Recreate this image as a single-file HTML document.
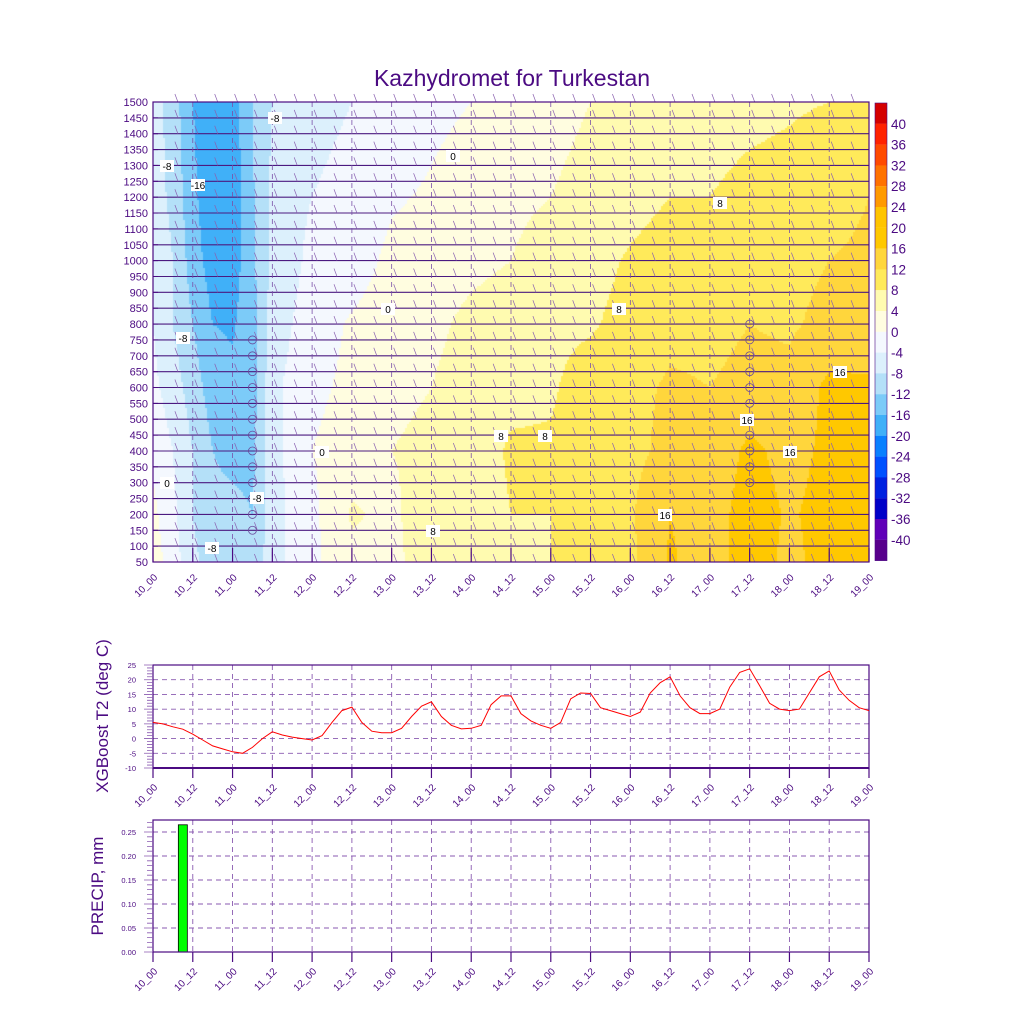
<!DOCTYPE html>
<html><head><meta charset="utf-8">
<style>
body{margin:0;background:#fff;width:1024px;height:1024px;position:relative;overflow:hidden;font-family:"Liberation Sans",sans-serif}
#fill{position:absolute;left:153px;top:102px}
#svg{position:absolute;left:0;top:0}
</style></head>
<body>
<canvas id="fill" width="716" height="460"></canvas>
<svg id="svg" width="1024" height="1024" xmlns="http://www.w3.org/2000/svg">
<text x="512" y="86" text-anchor="middle" font-size="23" fill="#4b0a82">Kazhydromet for Turkestan</text>
<g id="g"></g>
</svg>
<script>
// ---- data ----
const xLabels=["10_00","10_12","11_00","11_12","12_00","12_12","13_00","13_12","14_00","14_12","15_00","15_12","16_00","16_12","17_00","17_12","18_00","18_12","19_00"];
const gridHours=[0,6,12,18,24,30,36,42,48,60,72,84,96,108,120,132,144,156,168,180,192,204,216];
const gridLevels=[50,200,400,600,800,1000,1200,1500];
// temperature per column (levels 50..1500)
const tempGrid=[
[2,1,-1,-3,-4,-5,-6,-6],
[-2,-3,-4,-6,-8,-8,-9,-10],
[-7,-8,-8,-10,-12,-14,-15,-16],
[-10,-11,-12,-14,-16,-18,-19,-19],
[-11,-11,-13,-15,-16.5,-18,-18.5,-18],
[-10,-12,-13,-14,-13.5,-13,-12.5,-12],
[-6,-6,-5,-5,-6,-7,-7,-8],
[-3,-3,-3,-3,-4,-5,-5,-6],
[-1,-1,0,-1,-2,-3,-4,-5],
[3,4.5,2,1,0.5,-2,-3,-4],
[3,3,4,3,2,1,-0.5,-3],
[6,7,5,4,3,2,0.5,-1],
[5,6,6,6,5,3,2,0],
[7,8,8.5,7,6,4,3,2],
[8,8,8.5,7.5,7,6,4,3],
[9.5,10,10,10,7.5,6.5,5,4],
[11,11.5,11,11,9.5,8.5,6.5,5],
[16.5,16,13,12.5,11,10,8,6],
[14,14,13,12,11,10,8,6.5],
[18,18,17,13,12,11,9,7],
[15,15.5,14.5,13,11.5,11,9.5,7.5],
[17.5,17.5,17,17,13,12,11,8],
[17,17,17,16.5,14,12.5,12,9]];
const t2Values=[5.5,5,4,3.2,1.5,-0.5,-2.5,-3.5,-4.5,-5,-3,0,2.3,1.2,0.5,0,-0.5,1,5.5,9.5,10.7,5.5,2.5,2,2,3.5,7.5,11,12.5,7.5,4.5,3.3,3.5,4.5,11.5,14.5,14.5,8.5,6,4.5,3.5,5.5,13.5,15.5,15.3,10.5,9.5,8.5,7.5,9,15.5,19,21,14.5,10.5,8.5,8.5,10,17.5,22.5,23.7,18,12,10,9.5,10,15.5,21,23,16.5,13,10.5,9.5];
const precipValues=t2Values.map(()=>0);precipValues[3]=0.265;
const cbLevels=[40,36,32,28,24,20,16,12,8,4,0,-4,-8,-12,-16,-20,-24,-28,-32,-36,-40];
const cbColors=["#d40000","#ff2200","#ff4a00","#ff7200","#ff9a00","#ffc400","#ffc800","#ffd63c","#ffea5a","#fffbb0","#fffde0","#f4f8fe","#dcf0fc","#b4e0f8","#7ccbf8","#40b0f8","#0a80ff","#0050ff","#0020e0","#0000c8","#6000b8","#58008c"];
// ---- helpers ----
const NS="http://www.w3.org/2000/svg",G=document.getElementById('g'),P="#4b0a82";
function mk(t,a,txt){const e=document.createElementNS(NS,t);for(const k in a)e.setAttribute(k,a[k]);if(txt!==undefined)e.textContent=txt;G.appendChild(e);return e;}
const X0=153,X1=869;
const xH=h=>X0+(X1-X0)*h/216;
const yMain=l=>562-(l-50)*460/1450;
const yT=v=>768-(v+10)*103/35;
const yP=v=>952-v*480;
function colorFor(v){for(let i=0;i<cbLevels.length;i++){if(v>=cbLevels[i])return cbColors[i];}return cbColors[cbColors.length-1];}
// ---- fill ----
(function(){const c=document.getElementById('fill').getContext('2d');
function val(h,l){let i=0;while(i<gridHours.length-2&&gridHours[i+1]<h)i++;let j=0;while(j<gridLevels.length-2&&gridLevels[j+1]<l)j++;
const tx=(h-gridHours[i])/(gridHours[i+1]-gridHours[i]),ty=(l-gridLevels[j])/(gridLevels[j+1]-gridLevels[j]);
const a=tempGrid[i][j],b=tempGrid[i+1][j],cc=tempGrid[i][j+1],d=tempGrid[i+1][j+1];
return a*(1-tx)*(1-ty)+b*tx*(1-ty)+cc*(1-tx)*ty+d*tx*ty;}
for(let px=0;px<716;px+=2)for(let py=0;py<460;py+=2){const h=(px+1)/716*216,l=50+(460-py-1)/460*1450;c.fillStyle=colorFor(val(h,l));c.fillRect(px,py,2,2);}})();
// ---- main plot ----
let d="";
for(let l=100;l<1500;l+=50)d+=`M${X0} ${yMain(l).toFixed(1)}H${X1}`;
mk('path',{d:d,stroke:"#4b1a80",'stroke-width':1.1,fill:"none",});
d="";for(let l=50;l<=1500;l+=50){const y=yMain(l);for(let k=1;k<36;k++){const x=xH(k*6)+5;d+=`M${(x-3).toFixed(1)} ${(y-8).toFixed(1)}L${x.toFixed(1)} ${y.toFixed(1)}`;}}
mk('path',{d:d,stroke:"#8a60b0",'stroke-width':0.7,fill:"none",});
d="";for(let i=1;i<18;i++){const x=xH(i*12);d+=`M${x} 102V562`;}
mk('path',{d:d,stroke:"#7a50a8",'stroke-width':0.8,'stroke-dasharray':"5,4",fill:"none",});
for(let l=150;l<=750;l+=50)mk('circle',{cx:xH(30),cy:yMain(l),r:4,fill:"none",stroke:"#6a4a9a",'stroke-width':0.8,});
for(let l=300;l<=800;l+=50)mk('circle',{cx:xH(180),cy:yMain(l),r:4,fill:"none",stroke:"#6a4a9a",'stroke-width':0.8,});
mk('rect',{x:X0,y:102,width:X1-X0,height:460,fill:"none",stroke:P,'stroke-width':1.2,});
for(let l=50;l<=1500;l+=50){const y=yMain(l);mk('text',{x:148,y:y+4,'text-anchor':"end",'font-size':11,fill:P,},l);mk('line',{x1:X0,x2:X0+5,y1:y,y2:y,stroke:P});}
// x axes
function xAxis(yb,tickUp,dy,name){xLabels.forEach((s,i)=>{const x=xH(i*12);
mk('line',{x1:x,x2:x,y1:yb,y2:tickUp?yb-14:yb+10,stroke:P,'stroke-width':1.2});
const t=mk('text',{x:x+5,y:yb+dy,'text-anchor':"end",'font-size':10,fill:P,transform:`rotate(-45 ${x+5} ${yb+dy})`,},s);});}
xAxis(562,true,16,"main-x-tick-label");
// colorbar
cbColors.forEach((c,i)=>mk('rect',{x:875,y:103+i*20.8,width:12,height:20.9,fill:c,}));
mk('rect',{x:875,y:103,width:12,height:457.6,fill:"none",stroke:P,'stroke-width':0.6,});
cbLevels.forEach((v,i)=>mk('text',{x:891,y:103+(i+1)*20.8+5,'font-size':13.5,fill:P,},v));
// contour labels
[[167,166,"-8"],[198,185,"-16"],[275,118,"-8"],[183,338,"-8"],[167,483,"0"],[212,548,"-8"],[257,498,"-8"],[322,452,"0"],[388,309,"0"],[453,156,"0"],[433,531,"8"],[501,436,"8"],[545,436,"8"],[619,309,"8"],[720,203,"8"],[665,515,"16"],[747,420,"16"],[790,452,"16"],[840,372,"16"]].forEach(a=>{
mk('rect',{x:a[0]-7,y:a[1]-6,width:14,height:12,fill:"#fff",});
mk('text',{x:a[0],y:a[1]+4,'text-anchor':"middle",'font-size':10,fill:"#000",},a[2]);});
// ---- T2 plot ----
d="";for(let v=-5;v<25;v+=5)d+=`M${X0} ${yT(v)}H${X1}`;for(let i=1;i<18;i++)d+=`M${xH(i*12)} 665V768`;
mk('path',{d:d,stroke:"#8a5ab0",'stroke-width':0.9,'stroke-dasharray':"5,4",fill:"none",});
mk('rect',{x:X0,y:665,width:X1-X0,height:103,fill:"none",stroke:P,'stroke-width':1.2,});
mk('line',{x1:X0,x2:X1,y1:768,y2:768,stroke:P,'stroke-width':2});
d="";for(let v=-10;v<=25;v++)d+=`M${v%5?147:144} ${yT(v)}H${X0}`;mk('path',{d:d,stroke:"#8a5ab0",'stroke-width':0.8});
for(let v=-10;v<=25;v+=5)mk('text',{x:136,y:yT(v)+3,'text-anchor':"end",'font-size':7.5,fill:P,},v);
mk('polyline',{points:t2Values.map((v,i)=>`${xH(i*3).toFixed(1)},${yT(v).toFixed(1)}`).join(' '),fill:"none",stroke:"#ff0000",'stroke-width':1,});
mk('text',{x:108,y:716,'text-anchor':"middle",'font-size':17,fill:P,transform:"rotate(-90 108 716)",},"XGBoost T2 (deg C)");
xAxis(768,false,20,"t2-x-tick-label");
// ---- precip ----
d="";for(let v=0.05;v<0.27;v+=0.05)d+=`M${X0} ${yP(v)}H${X1}`;for(let i=1;i<18;i++)d+=`M${xH(i*12)} 820V952`;
mk('path',{d:d,stroke:"#8a5ab0",'stroke-width':0.9,'stroke-dasharray':"5,4",fill:"none",});
precipValues.forEach((v,i)=>{if(v>0)mk('rect',{x:xH(i*3)-4.5,y:yP(v),width:9,height:952-yP(v),fill:"#00ff00",stroke:"#000",'stroke-width':0.8,});});
mk('rect',{x:X0,y:820,width:X1-X0,height:132,fill:"none",stroke:P,'stroke-width':1.2,});
d="";for(let k=0;k<=27;k++)d+=`M${k%5?147:144} ${yP(k*0.01)}H${X0}`;mk('path',{d:d,stroke:"#8a5ab0",'stroke-width':0.8});
for(let k=0;k<=5;k++)mk('text',{x:136,y:yP(k*0.05)+3,'text-anchor':"end",'font-size':7.5,fill:P,},(k*0.05).toFixed(2));
mk('text',{x:103,y:886,'text-anchor':"middle",'font-size':17,fill:P,transform:"rotate(-90 103 886)",},"PRECIP, mm");
xAxis(952,false,20,"precip-x-tick-label");
</script>
</body></html>
